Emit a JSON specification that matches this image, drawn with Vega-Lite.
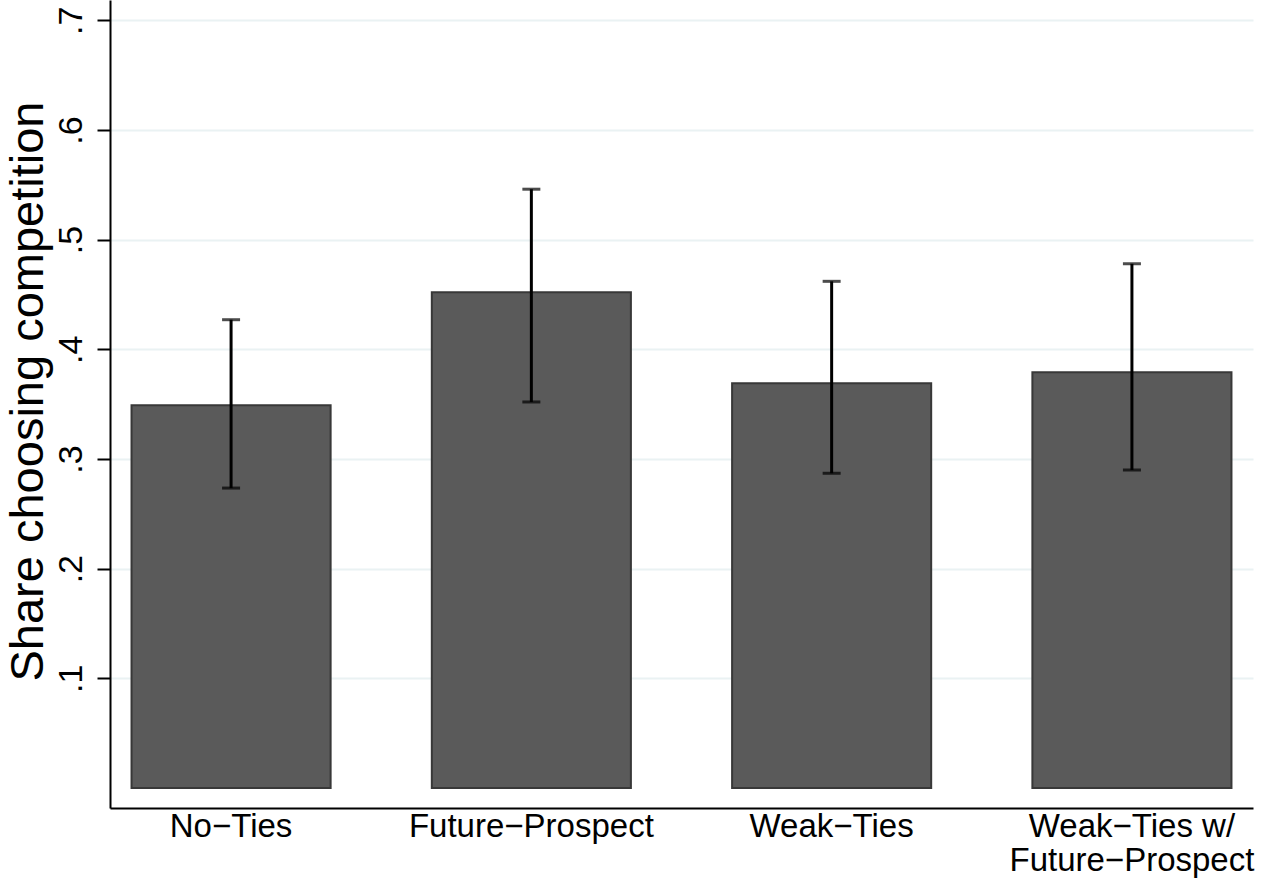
{
  "$schema": "https://vega.github.io/schema/vega-lite/v6.json",
  "width": 1143,
  "height": 808,
  "autosize": {"type": "none"},
  "padding": {"left": 110, "top": 0, "right": 10, "bottom": 72},
  "background": "white",
  "config": {
    "view": {"stroke": null},
    "font": "Liberation Sans",
    "axis": {"labelFont": "Liberation Sans", "titleFont": "Liberation Sans", "labelColor": "black", "titleColor": "black", "domainColor": "black", "tickColor": "black"}
  },
  "data": {
    "values": [
      {"group": "No−Ties", "share": 0.349, "lo": 0.2735, "hi": 0.427},
      {"group": "Future−Prospect", "share": 0.452, "lo": 0.352, "hi": 0.546},
      {"group": "Weak−Ties", "share": 0.369, "lo": 0.287, "hi": 0.462},
      {"group": "Weak−Ties w/ Future−Prospect", "share": 0.379, "lo": 0.290, "hi": 0.478}
    ]
  },
  "encoding": {
    "x": {
      "field": "group",
      "type": "nominal",
      "sort": null,
      "scale": {"paddingInner": 0.337, "paddingOuter": 0.0717},
      "axis": {
        "title": null,
        "labelAngle": 0,
        "labelFontSize": 33,
        "labelPadding": 2,
        "labelLineHeight": 34,
        "labelLimit": 0,
        "ticks": false,
        "domainWidth": 2,
        "grid": false,
        "labelExpr": "datum.label == 'Weak−Ties w/ Future−Prospect' ? ['Weak−Ties w/', 'Future−Prospect'] : datum.label"
      }
    }
  },
  "layer": [
    {
      "mark": {"type": "bar", "fill": "#5a5a5a", "stroke": "#383838", "strokeWidth": 2},
      "encoding": {
        "y": {
          "field": "share",
          "type": "quantitative",
          "scale": {"domain": [-0.0182, 0.7185], "nice": false, "zero": false},
          "axis": {
            "title": "Share choosing competition",
            "titleFontSize": 47,
            "titleFontWeight": "normal",
            "titleAngle": -90,
            "titleAlign": "center",
            "titleBaseline": "alphabetic",
            "titleX": -68,
            "titleY": 391,
            "values": [0.1, 0.2, 0.3, 0.4, 0.5, 0.6, 0.7],
            "labelExpr": "replace(format(datum.value, '.1f'), '0.', '.')",
            "labelAngle": -90,
            "labelAlign": "center",
            "labelBaseline": "alphabetic",
            "labelFontSize": 34,
            "labelPadding": 16,
            "tickSize": 13,
            "tickWidth": 2,
            "domainWidth": 2,
            "grid": true,
            "gridColor": "#eaf2f3",
            "gridWidth": 2
          }
        },
        "y2": {"datum": 0}
      }
    },
    {
      "mark": {"type": "rule", "color": "black", "strokeWidth": 3},
      "encoding": {
        "y": {"field": "lo", "type": "quantitative"},
        "y2": {"field": "hi"}
      }
    },
    {
      "mark": {"type": "tick", "color": "black", "size": 18, "thickness": 3},
      "encoding": {"y": {"field": "lo", "type": "quantitative"}}
    },
    {
      "mark": {"type": "tick", "color": "black", "size": 18, "thickness": 3},
      "encoding": {"y": {"field": "hi", "type": "quantitative"}}
    }
  ]
}
